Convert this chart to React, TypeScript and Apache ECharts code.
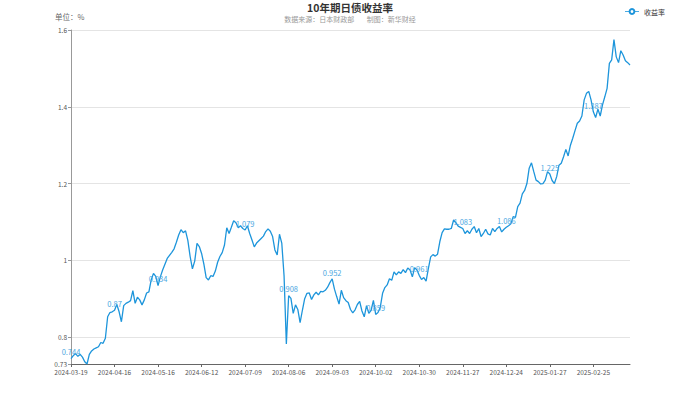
import { useEffect, useRef } from "react";
import * as echarts from "echarts";

const titleText = "10年期日债收益率";
const subText = "数据来源：日本财政部        制图：新华财经";
const unitText = "单位：%";
const seriesName = "收益率";

const startDate = [2024, 2, 19];
const holidays = [
  "2024-03-20", "2024-04-29", "2024-05-03", "2024-05-06", "2024-07-15",
  "2024-08-12", "2024-09-16", "2024-09-23", "2024-10-14", "2024-11-04",
  "2024-12-31", "2025-01-01", "2025-01-02", "2025-01-03", "2025-01-13",
  "2025-02-11", "2025-02-24", "2025-03-20",
];

const values = [
  0.744, 0.752, 0.757, 0.75, 0.755, 0.748, 0.736, 0.73, 0.755, 0.764,
  0.769, 0.772, 0.775, 0.786, 0.784, 0.797, 0.853, 0.864, 0.866, 0.87,
  0.885, 0.866, 0.84, 0.882, 0.888, 0.891, 0.895, 0.921, 0.888, 0.904,
  0.897, 0.884, 0.897, 0.915, 0.918, 0.949, 0.966, 0.958, 0.934, 0.957,
  0.975, 0.99, 1.005, 1.013, 1.021, 1.03, 1.047, 1.066, 1.08, 1.072,
  1.077, 1.052, 1.01, 0.978, 0.998, 1.044, 1.036, 1.018, 0.99, 0.955,
  0.949, 0.96, 0.958, 0.972, 0.995, 1.01, 1.02, 1.04, 1.085, 1.07,
  1.086, 1.103, 1.098, 1.085, 1.09, 1.083, 1.079, 1.09, 1.07, 1.053,
  1.035, 1.045, 1.051, 1.057, 1.063, 1.075, 1.082, 1.076, 1.062, 1.027,
  1.014, 1.068, 1.045, 0.96, 0.782, 0.908, 0.901, 0.862, 0.884, 0.872,
  0.838, 0.87, 0.9, 0.914, 0.915, 0.898, 0.91, 0.917, 0.91, 0.919,
  0.918, 0.922, 0.93, 0.942, 0.952, 0.925, 0.905, 0.886, 0.922, 0.903,
  0.895, 0.89, 0.872, 0.863, 0.871, 0.885, 0.893, 0.868, 0.853, 0.882,
  0.862, 0.87, 0.896, 0.859, 0.864, 0.878, 0.914, 0.929, 0.936, 0.952,
  0.948, 0.97, 0.962, 0.97, 0.966, 0.976, 0.968, 0.98, 0.975, 0.957,
  0.981, 0.975, 0.961, 0.95, 0.955, 0.946, 0.979, 1.009, 1.015, 1.011,
  1.016, 1.049, 1.072, 1.082, 1.081, 1.081, 1.083, 1.105, 1.098, 1.089,
  1.086, 1.083, 1.07, 1.077, 1.07, 1.081, 1.088, 1.072, 1.083, 1.062,
  1.07, 1.081, 1.069, 1.066, 1.083, 1.075, 1.083, 1.088, 1.074, 1.081,
  1.086, 1.09, 1.095, 1.114, 1.112, 1.14, 1.149, 1.173, 1.182, 1.2,
  1.24, 1.254, 1.231, 1.209, 1.205, 1.199, 1.2, 1.209, 1.231, 1.225,
  1.208, 1.2, 1.218, 1.248, 1.253, 1.27, 1.289, 1.272, 1.3, 1.318,
  1.338, 1.357, 1.363, 1.376, 1.418, 1.435, 1.44, 1.418, 1.387, 1.372,
  1.394, 1.376, 1.405, 1.426, 1.448, 1.513, 1.522, 1.575, 1.53, 1.515,
  1.546, 1.535, 1.52, 1.515, 1.509,
];

const labelIdx = [0, 19, 38, 76, 95, 114, 133, 152, 171, 190, 209, 228];

function pad(n: number) {
  return n < 10 ? "0" + n : "" + n;
}

function buildDates(count: number): string[] {
  const out: string[] = [];
  let t = Date.UTC(startDate[0], startDate[1], startDate[2]);
  while (out.length < count) {
    const d = new Date(t);
    const s = d.getUTCFullYear() + "-" + pad(d.getUTCMonth() + 1) + "-" + pad(d.getUTCDate());
    const wd = d.getUTCDay();
    if (wd !== 0 && wd !== 6 && holidays.indexOf(s) < 0) out.push(s);
    t += 86400000;
  }
  return out;
}

const lineColor = "#1d95db";
const font = "'Noto Sans CJK SC', 'Noto Sans', sans-serif";

export default function App() {
  const ref = useRef<HTMLDivElement>(null);
  useEffect(() => {
    const chart = echarts.init(ref.current!, null, { renderer: "svg" });
    const dates = buildDates(values.length);
    const data = values.map((v, i) =>
      labelIdx.indexOf(i) >= 0 ? { value: v, label: { show: true } } : { value: v }
    );
    chart.setOption({
      animation: false,
      textStyle: { fontFamily: font },
      title: {
        text: titleText,
        subtext: subText,
        left: "center",
        top: -3,
        itemGap: 3,
        textStyle: { fontSize: 10.5, fontWeight: "bold", color: "#333", fontFamily: font },
        subtextStyle: { fontSize: 7, color: "#999", fontFamily: font },
      },
      graphic: [
        {
          type: "text",
          left: 55,
          top: 13,
          style: { text: unitText, fontSize: 7.5, fill: "#666", fontFamily: font },
        },
      ],
      legend: {
        right: 30,
        top: 3,
        itemWidth: 14,
        itemHeight: 6,
        itemGap: 4,
        itemStyle: { borderWidth: 0.8 },
        lineStyle: { width: 0.8 },
        textStyle: { fontSize: 7, color: "#333", fontFamily: font },
        data: [seriesName],
      },
      grid: { left: 71, right: 70, top: 30, bottom: 30, containLabel: false },
      xAxis: {
        type: "category",
        boundaryGap: false,
        data: dates,
        axisLine: { lineStyle: { color: "#666", width: 1 } },
        axisTick: { interval: 18, length: 3, lineStyle: { color: "#666" } },
        axisLabel: { interval: 18, fontSize: 6.5, color: "#555", margin: 5, fontFamily: font },
      },
      yAxis: {
        type: "value",
        min: "dataMin",
        axisLine: { show: true, lineStyle: { color: "#999" } },
        axisTick: { show: true, length: 3, lineStyle: { color: "#999" } },
        axisLabel: { fontSize: 6.5, color: "#555", margin: 4, fontFamily: font },
        splitLine: { lineStyle: { color: "#e4e4e4" } },
      },
      series: [
        {
          name: seriesName,
          type: "line",
          data,
          symbol: "emptyCircle",
          symbolSize: 0,
          showSymbol: true,
          showAllSymbol: true,
          lineStyle: { color: lineColor, width: 1.3 },
          itemStyle: { color: lineColor },
          label: {
            show: false,
            position: "top",
            distance: 3,
            fontSize: 7.5,
            color: "#4aa7e2",
            fontFamily: font,
          },
        },
      ],
    });
    return () => chart.dispose();
  }, []);
  return (
    <div
      ref={ref}
      style={{ position: "absolute", left: 0, top: 0, width: 700, height: 394 }}
    />
  );
}
